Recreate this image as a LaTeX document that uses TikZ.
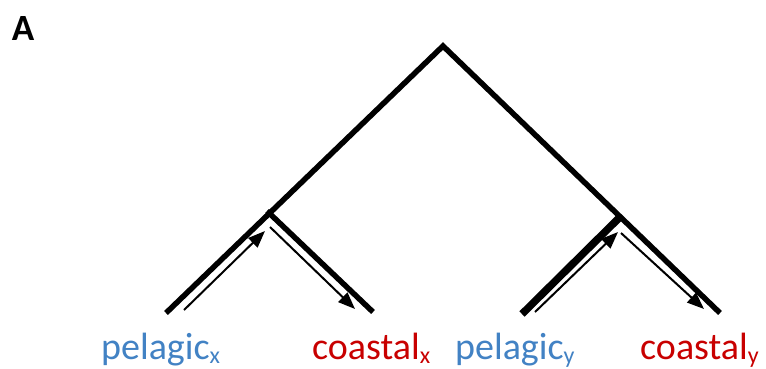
\documentclass[tikz,border=0pt]{standalone}
\usepackage{fontspec}
\setmainfont{Carlito}
\usetikzlibrary{arrows.meta}
\definecolor{pel}{RGB}{66,130,196}
\definecolor{coa}{RGB}{200,0,0}
\newcommand{\subx}[1]{\raisebox{-0.12em}{\fontsize{24}{24}\selectfont #1}}
\begin{document}
\begin{tikzpicture}[x=1pt,y=-1pt,
  branch/.style={line width=5.5pt,line cap=butt},
  thickbranch/.style={line width=7.5pt,line cap=butt},
  flow/.style={line width=2pt,-{Triangle[length=17pt,width=13pt]}},
  lbl/.style={font=\fontsize{38}{38}\selectfont,anchor=base west,inner sep=0pt}]
\useasboundingbox (0,0) rectangle (766,368);
\coordinate (root) at (443,46);
\coordinate (jx) at (270,212);
\coordinate (jy) at (619,218);
\coordinate (px) at (166,313);
\coordinate (cx) at (373,312);
\coordinate (py) at (522,314);
\coordinate (cy) at (720,313);
\node[font=\fontsize{37}{37}\selectfont\bfseries,inner sep=0pt] (A) at (23,28) {A};
\draw[branch] (px) -- (root) -- (cy);
\draw[branch] (267,211) -- (cx);
\draw[thickbranch] (jy) -- (py);
\draw[flow] (184,310) -- (265,231);
\draw[flow] (270,227) -- (355,309);
\draw[flow] (535,312) -- (618,232);
\draw[flow] (621,233) -- (704,309);
\node[lbl,text=pel] (lpx) at (101,359) {pelagic\subx{x}};
\node[lbl,text=coa] (lcx) at (312,359) {coastal\subx{x}};
\node[lbl,text=pel] (lpy) at (455,359) {pelagic\subx{y}};
\node[lbl,text=coa] (lcy) at (640,359) {coastal\subx{y}};
\end{tikzpicture}
\end{document}
